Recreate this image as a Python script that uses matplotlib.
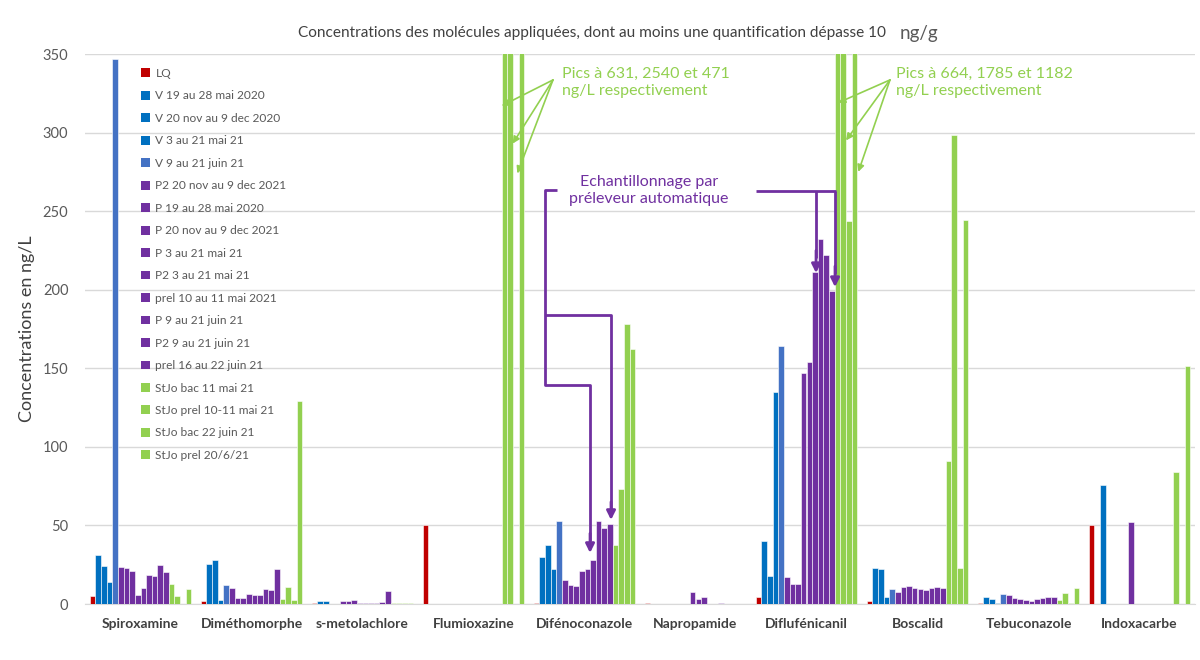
import numpy as np
import matplotlib
matplotlib.use('Agg')
import matplotlib.pyplot as plt
from matplotlib.patches import Patch

plt.rcParams['font.family'] = ['Lato', 'DejaVu Sans']

categories = ['Spiroxamine', 'Diméthomorphe', 's-metolachlore', 'Flumioxazine',
              'Difénoconazole', 'Napropamide', 'Diflufénicanil', 'Boscalid',
              'Tebuconazole', 'Indoxacarbe']

series = ['LQ', 'V 19 au 28 mai 2020', 'V 20 nov au 9 dec 2020', 'V 3 au 21 mai 21',
          'V 9 au 21 juin 21', 'P2 20 nov au 9 dec 2021', 'P 19 au 28 mai 2020',
          'P 20 nov au 9 dec 2021', 'P 3 au 21 mai 21', 'P2 3 au 21 mai 21',
          'prel 10 au 11 mai 2021', 'P 9 au 21 juin 21', 'P2 9 au 21 juin 21',
          'prel 16 au 22 juin 21', 'StJo bac 11 mai 21', 'StJo prel 10-11 mai 21',
          'StJo bac 22 juin 21', 'StJo prel 20/6/21']

RED, BLUE, BLUE2, PURPLE, GREEN = '#C00000', '#0070C0', '#4472C4', '#7030A0', '#92D050'
colors = [RED, BLUE, BLUE, BLUE, BLUE2] + [PURPLE] * 9 + [GREEN] * 4

# one list per molecule, values in series order (ng/L)
spiroxamine    = [5, 31, 24, 14, 347, 23.5, 23, 21, 6, 10, 18.5, 18, 25, 20.5, 13, 5, 0, 9.5]
dimethomorphe  = [2, 25.5, 28, 2.3, 12, 10.5, 4, 3.8, 6.4, 6, 5.5, 9.5, 9, 22, 3.4, 11, 2.5, 129]
metolachlore   = [0.6, 2.1, 2.1, 0, 0, 2.1, 2.1, 2.3, 0.6, 0.6, 0.8, 0.8, 1.3, 8, 0.6, 0.8, 0.6, 0.8]
flumioxazine   = [50, 0, 0, 0, 0, 0, 0, 0, 0, 0, 0, 0, 0, 0, 631, 2540, 0, 471]
difenoconazole = [0.8, 29.7, 37.5, 22, 53, 15, 12, 11.5, 21.2, 22.2, 28.2, 53, 48.3, 51, 37.5, 73, 178, 162.5]
napropamide    = [0.8, 0, 0, 0, 0, 0, 0, 0, 7.4, 3.2, 4.7, 0, 0, 0.8, 0, 0, 0, 0]
diflufenicanil = [4.7, 40, 17.6, 134.6, 164.5, 17, 13, 13, 147, 154, 211, 232.5, 222, 199.3, 664, 1785, 244, 1182]
boscalid       = [1.9, 22.7, 22.2, 4.2, 9.5, 7.8, 10.8, 11.2, 10, 9.3, 8.9, 10.4, 11, 10, 91, 298.5, 23, 244.3]
tebuconazole   = [0.6, 4.2, 3.4, 0.6, 6.4, 5.5, 3.6, 3.4, 2.5, 2.1, 3.2, 3.8, 4.5, 4.5, 2.3, 6.8, 0.6, 10]
indoxacarbe    = [50, 0, 75.6, 0, 0, 0, 0, 52.3, 0, 0, 0, 0, 0, 0, 0, 84.3, 0, 151.5]

values = np.array([spiroxamine, dimethomorphe, metolachlore, flumioxazine, difenoconazole,
                   napropamide, diflufenicanil, boscalid, tebuconazole, indoxacarbe])

fig = plt.figure(figsize=(12, 6.6), dpi=100)
ax = fig.add_axes([85 / 1200, 1 - 604 / 660, 1110 / 1200, 550 / 660])

n = len(series)
w = 1 / 19.6
x = np.arange(len(categories))
for k in range(n):
    ax.bar(x + (k - (n - 1) / 2) * w, values[:, k], width=w, color=colors[k],
           edgecolor='white', linewidth=0.4, label=series[k], zorder=3)

ax.set_xlim(-0.5, len(categories) - 0.5)
ax.set_ylim(0, 350)
ax.set_yticks(np.arange(0, 351, 50))
ax.yaxis.grid(True, color='#d9d9d9', lw=1, zorder=0)
ax.set_axisbelow(True)
for s in ['top', 'right', 'left']:
    ax.spines[s].set_visible(False)
ax.spines['bottom'].set_color('#d9d9d9')
ax.tick_params(axis='y', length=0, pad=12, labelsize=10.5, labelcolor='#595959')
ax.set_xticks(x)
ax.set_xticklabels(categories, fontsize=10, fontweight='bold', color='#404040')
ax.tick_params(axis='x', length=0, pad=10)
ax.set_ylabel('Concentrations en ng/L', fontsize=13, color='#404040')
ax.yaxis.set_label_coords(-0.045, 0.5)

fig.text(0.4933, 1 - 33 / 660, 'Concentrations des molécules appliquées, dont au moins une quantification dépasse 10',
         ha='center', va='center', fontsize=11.1, color='#404040')
fig.text(900 / 1200, 1 - 33 / 660, 'ng/g', ha='left', va='center', fontsize=13.5, color='#595959')

handles = [Patch(facecolor=c) for c in colors]
ax.legend(handles, series, loc='upper left', bbox_to_anchor=(0.0505, 0.9745),
          frameon=False, fontsize=8.6, handlelength=0.75, handleheight=0.75,
          handletextpad=0.45, labelspacing=0.96, borderpad=0, borderaxespad=0,
          labelcolor='#595959')

# peaks outside the scale
for tx, sx, tips, txt in [
        (3.797, 3.716, [(3.254, 317), (3.353, 293), (3.395, 274)], 'Pics à 631, 2540 et 471\nng/L respectivement'),
        (6.806, 6.752, [(6.286, 319), (6.356, 295), (6.467, 275)], 'Pics à 664, 1785 et 1182\nng/L respectivement')]:
    ax.text(tx, 332, txt, color=GREEN, fontsize=11.5, ha='left', va='center', linespacing=1.3)
    for px, py in tips:
        ax.annotate('', xy=(px, py), xytext=(sx, 333.5),
                    arrowprops=dict(arrowstyle='-|>', color=GREEN, lw=1.2,
                                    mutation_scale=10, shrinkA=0, shrinkB=0))

# automatic sampler brackets
ax.text(4.581, 263, 'Echantillonnage par\npréleveur automatique', color=PURPLE,
        fontsize=11.5, ha='center', va='center', linespacing=1.3)
lk = dict(color=PURPLE, lw=2, solid_capstyle='butt', zorder=5)
ax.plot([3.752, 3.644, 3.644, 4.050, 4.050], [263.5, 263.5, 139.4, 139.4, 40], **lk)
ax.plot([3.644, 4.239, 4.239], [183.9, 183.9, 60], **lk)
ax.plot([5.545, 6.266], [262.8, 262.8], **lk)
ax.plot([6.086, 6.086], [262.8, 220], **lk)
ax.plot([6.257, 6.257], [262.8, 210], **lk)
ap = dict(arrowstyle='-|>', color=PURPLE, lw=2, mutation_scale=13, shrinkA=0, shrinkB=0)
for px, y0, y1 in [(4.050, 45, 32.5), (4.239, 65, 53.5), (6.086, 225, 210.6), (6.257, 215, 201.7)]:
    ax.annotate('', xy=(px, y1), xytext=(px, y0), arrowprops=ap, zorder=6)

fig.savefig('out.png', dpi=100)
